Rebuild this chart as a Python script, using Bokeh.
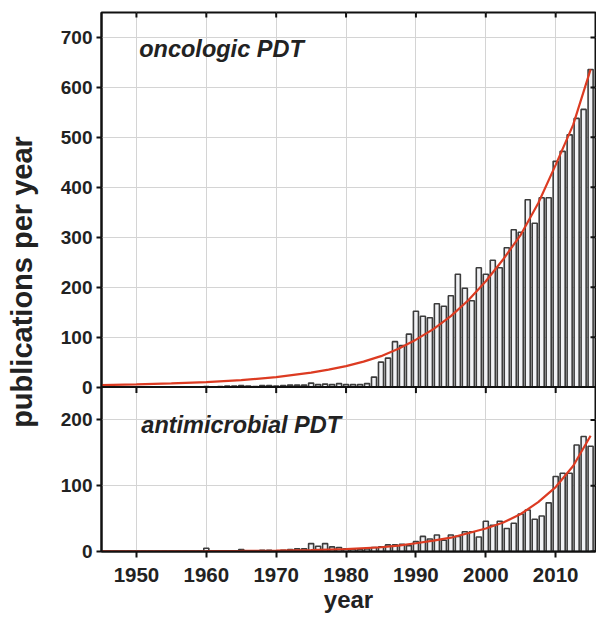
from bokeh.plotting import figure
from bokeh.models import (Range1d, LinearAxis, Label, FixedTicker, Span,
                          CustomJSTickFormatter)
from bokeh.embed import file_html
from bokeh.resources import INLINE

years = list(range(1945, 2016))
oncologic = [0] * 15 + [
    1, 0, 1, 2, 2, 3, 2, 1, 3, 3,
    2, 3, 4, 4, 4, 8, 5, 6, 5, 7,
    5, 5, 5, 7, 20, 50, 58, 91, 83, 106,
    152, 142, 139, 167, 162, 183, 226, 198, 173, 239,
    226, 254, 239, 279, 315, 310, 375, 328, 379, 379,
    452, 472, 505, 538, 556, 636]
antimicrobial = [0] * 15 + [
    5, 0, 0, 1, 1, 3, 1, 1, 2, 2,
    1, 2, 3, 4, 4, 12, 8, 12, 7, 6,
    4, 3, 3, 4, 6, 7, 10, 10, 11, 9,
    15, 23, 19, 25, 17, 25, 23, 30, 30, 22,
    46, 40, 46, 35, 43, 57, 63, 49, 54, 74,
    114, 119, 119, 162, 175, 160]

onco_fit_years = [1945, 1950, 1955, 1960, 1965, 1970, 1975, 1977.5, 1980, 1982.5,
                  1985, 1987.5, 1990, 1992.5, 1995, 1997.5, 2000, 2002.5, 2005,
                  2007.5, 2010, 2012.5, 2015]
onco_fit = [4, 5.5, 7.5, 10, 14, 20, 29, 35, 42, 51,
            62, 77, 95, 116, 142, 174, 212, 256, 305,
            368, 445, 525, 636]
anti_fit_years = [1945, 1950, 1955, 1960, 1965, 1970, 1975, 1980, 1985, 1987.5,
                  1990, 1992.5, 1995, 2000, 2002.5, 2005, 2007.5, 2010, 2012.5, 2015]
anti_fit = [0.1, 0.2, 0.3, 0.5, 0.8, 1.3, 2.1, 3.5, 6.5, 9,
            12.5, 16.5, 21, 35, 44, 57, 75, 98, 130, 176]

year_ticks = [1950, 1960, 1970, 1980, 1990, 2000, 2010]
onco_ticks = [0, 100, 200, 300, 400, 500, 600, 700]
anti_ticks = [0, 100, 200]

FONT = "Liberation Sans"
BAR_FILL = "#f1f2f5"
BAR_LINE = "#3c3c3c"
RED = "#dc3b22"
GRID = "#d4d4d4"
INK = "#111111"
TEXT = "#222222"

# layout of the two stacked panels inside one frame (pixels)
TOP_PX, BOT_PX = 376, 165
FRAME_W, FRAME_H = 494, TOP_PX + BOT_PX
TOP_MAX, BOT_MAX = 750, 250
X0, X1 = 1945, 2015.7

onco_start = -BOT_PX / TOP_PX * TOP_MAX           # onco units at frame bottom
anti_end = BOT_MAX * FRAME_H / BOT_PX            # anti units at frame top
k = (BOT_PX / BOT_MAX) * (TOP_MAX / TOP_PX)      # anti unit -> onco unit
anti_pos = [onco_start + v * k for v in anti_ticks]

p = figure(width=101 + FRAME_W + 1, height=12 + FRAME_H + 62,
           x_range=Range1d(X0, X1), y_range=Range1d(onco_start, TOP_MAX),
           output_backend="svg", toolbar_location=None,
           x_axis_location=None, y_axis_location=None,
           min_border_left=101, min_border_right=1,
           min_border_top=12, min_border_bottom=62)
p.extra_y_ranges = {"anti": Range1d(0, anti_end)}
p.outline_line_color = INK
p.outline_line_width = 2
p.background_fill_color = "white"
p.border_fill_color = "white"

p.xgrid.ticker = FixedTicker(ticks=year_ticks)
p.ygrid.ticker = FixedTicker(ticks=onco_ticks[1:] + anti_pos[1:])
for g in (p.xgrid, p.ygrid):
    g.grid_line_color = GRID
    g.grid_line_width = 1

# left axis: ticks of both panels, labels mapped back to each panel's units
ya = LinearAxis(ticker=FixedTicker(ticks=onco_ticks + anti_pos))
ya.formatter = CustomJSTickFormatter(
    args=dict(start=onco_start, k=k),
    code="if (tick < -1) { return String(Math.round((tick - start) / k)); } "
         "return String(Math.round(tick));")
ya.major_tick_in = 0
ya.major_tick_out = 5
ya.minor_tick_in = 0
ya.minor_tick_out = 0
ya.major_label_text_font = FONT
ya.major_label_text_font_style = "bold"
ya.major_label_text_font_size = "19px"
ya.major_label_text_color = TEXT
ya.major_label_standoff = 4
ya.axis_line_width = 2
ya.axis_line_color = INK
ya.major_tick_line_width = 2
ya.major_tick_line_color = INK
ya.axis_label = "publications per year"
ya.axis_label_text_font = FONT
ya.axis_label_text_font_style = "bold"
ya.axis_label_text_font_size = "29px"
ya.axis_label_text_color = TEXT
ya.axis_label_standoff = 20
p.add_layout(ya, "left")

xa = LinearAxis(ticker=FixedTicker(ticks=year_ticks))
xa.major_tick_in = 0
xa.major_tick_out = 6
xa.minor_tick_in = 0
xa.minor_tick_out = 0
xa.major_label_text_font = FONT
xa.major_label_text_font_style = "bold"
xa.major_label_text_font_size = "20.5px"
xa.major_label_text_color = TEXT
xa.major_label_standoff = 10
xa.axis_line_width = 2
xa.axis_line_color = INK
xa.major_tick_line_width = 2
xa.major_tick_line_color = INK
xa.axis_label = "year"
xa.axis_label_text_font = FONT
xa.axis_label_text_font_style = "bold"
xa.axis_label_text_font_size = "24px"
xa.axis_label_text_color = TEXT
xa.axis_label_standoff = 1
p.add_layout(xa, "below")

# panel divider
p.add_layout(Span(location=0, dimension="width", line_color=INK, line_width=2))

# bars and fitted curves
p.vbar(x=years, top=oncologic, bottom=0, width=0.72,
       fill_color=BAR_FILL, line_color=BAR_LINE, line_width=1.6)
p.line(onco_fit_years, onco_fit, line_color=RED, line_width=2.2)
p.vbar(x=years, top=antimicrobial, bottom=0, width=0.72, y_range_name="anti",
       fill_color=BAR_FILL, line_color=BAR_LINE, line_width=1.6)
p.line(anti_fit_years, anti_fit, line_color=RED, line_width=2.2, y_range_name="anti")

# inward mirror ticks (top edge, divider, right edge)
px_x = (X1 - X0) / FRAME_W
px_y = TOP_MAX / TOP_PX
n = len(year_ticks)
p.segment(x0=year_ticks, x1=year_ticks, y0=[TOP_MAX] * n, y1=[TOP_MAX - 5 * px_y] * n,
          line_color=INK, line_width=2)
p.segment(x0=year_ticks, x1=year_ticks, y0=[0] * n, y1=[-6 * px_y] * n,
          line_color=INK, line_width=2)
rt = onco_ticks + anti_pos
p.segment(x0=[X1] * len(rt), x1=[X1 - 5 * px_x] * len(rt), y0=rt, y1=rt,
          line_color=INK, line_width=2)

p.add_layout(Label(x=1950.4, y=676, text="oncologic PDT",
                   text_font=FONT, text_font_style="bold italic",
                   text_font_size="23.5px", text_color=TEXT,
                   text_baseline="alphabetic"))
p.add_layout(Label(x=1950.7, y=193, y_range_name="anti", text="antimicrobial PDT",
                   text_font=FONT, text_font_style="bold italic",
                   text_font_size="23.5px", text_color=TEXT,
                   text_baseline="alphabetic"))

open("out.html", "w").write(file_html(p, INLINE))
